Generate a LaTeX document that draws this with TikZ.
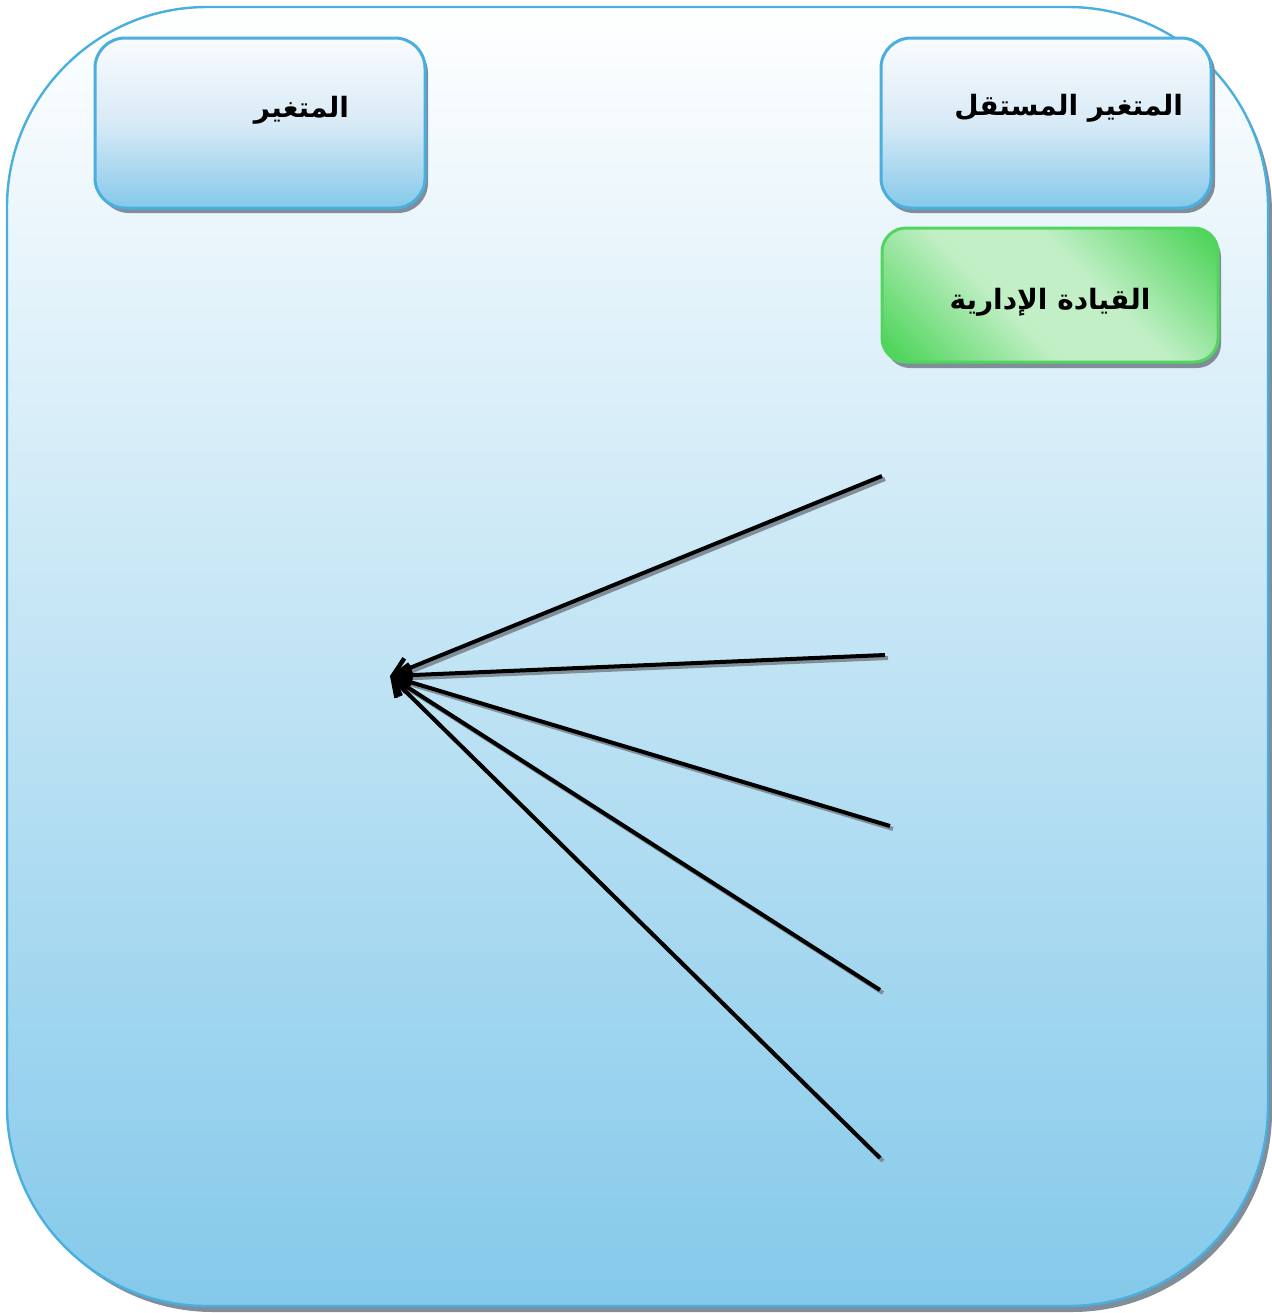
\documentclass[tikz,border=0pt]{standalone}
\usepackage{fontspec}
\TeXXeTstate=1
\newfontfamily\arabicfont[Script=Arabic]{DejaVu Sans}
\usetikzlibrary{arrows.meta}
\definecolor{bordblue}{HTML}{4AAEDE}
\definecolor{skyb}{HTML}{84C9EA}
\definecolor{topw}{HTML}{FAFCFE}
\definecolor{midb}{HTML}{D8EAF6}
\definecolor{shad}{HTML}{7F8E99}
\definecolor{grn}{HTML}{52D55E}
\definecolor{lgrn}{HTML}{C2EFC6}
\tikzset{
  bluebox/.style={draw=bordblue, line width=1.5pt, rounded corners=15pt, top color=topw, bottom color=skyb, middle color=midb},
  greenbox/.style={draw=grn, line width=1.5pt, rounded corners=12pt},
  shadowbox/.style={fill=shad, draw=none},
  lbl/.style={font=\arabicfont\bfseries\fontsize{14}{16}\selectfont, text=black},
  arr/.style={line width=2pt, -{Straight Barb[length=8pt,width=11pt,line width=2.2pt]}},
  arrshadow/.style={line width=2pt, draw=shad}
}
\begin{document}
\begin{tikzpicture}[x=0.5pt,y=-0.5pt]
\useasboundingbox (0,0) rectangle (1272,1313);
% outer container
\fill[shad, rounded corners=100pt] (13,13) rectangle (1272,1312);
\path[draw=bordblue, line width=1.2pt, rounded corners=100pt, top color=white, bottom color=skyb] (7,7) rectangle (1268,1306);
% shadows of boxes
\fill[shadowbox, rounded corners=15pt] (99,43) rectangle (428,213);
\fill[shadowbox, rounded corners=15pt] (884,43) rectangle (1215,213);
\fill[shadowbox, rounded corners=12pt] (886,233) rectangle (1221,368);
% green diagonal gradient fill
\begin{scope}
  \clip[rounded corners=12pt] (882,228) rectangle (1218,362);
  \begin{scope}[transform canvas={rotate around={-45:(1050,295)}}]
    \fill[grn] (750,0) rectangle (1350,147);
    \shade[top color=grn, bottom color=lgrn] (750,145) rectangle (1350,257);
    \fill[lgrn] (750,255) rectangle (1350,335);
    \shade[top color=lgrn, bottom color=grn] (750,333) rectangle (1350,445);
    \fill[grn] (750,443) rectangle (1350,600);
  \end{scope}
\end{scope}
% boxes
\node[bluebox, minimum width=165pt, minimum height=85pt, inner sep=0pt] (dep) at (260,123) {};
\node[bluebox, minimum width=165pt, minimum height=85pt, inner sep=0pt] (ind) at (1046,123) {};
\node[greenbox, minimum width=168pt, minimum height=67pt, inner sep=0pt] (lead) at (1050,295) {};
\node[lbl, anchor=east] (deptxt) at (356,110) {\beginR المتغير\endR};
\node[lbl, anchor=east] (indtxt) at (1190,108) {\beginR المتغير المستقل\endR};
\node[lbl] (leadtxt) at (1050,302) {\beginR القيادة الإدارية\endR};
% arrow fan
\coordinate (tip) at (390,676);
\coordinate (s1) at (882,476);
\coordinate (s2) at (885,655);
\coordinate (s3) at (890,826);
\coordinate (s4) at (880,990);
\coordinate (s5) at (880,1158);
\foreach \s in {s1,s2,s3,s4,s5}{
  \draw[arrshadow, transform canvas={xshift=1.5pt,yshift=-1.5pt}] (\s) -- (tip);
}
\foreach \s in {s1,s2,s3,s4,s5}{
  \draw[arr] (\s) -- (tip);
}
\end{tikzpicture}
\end{document}
